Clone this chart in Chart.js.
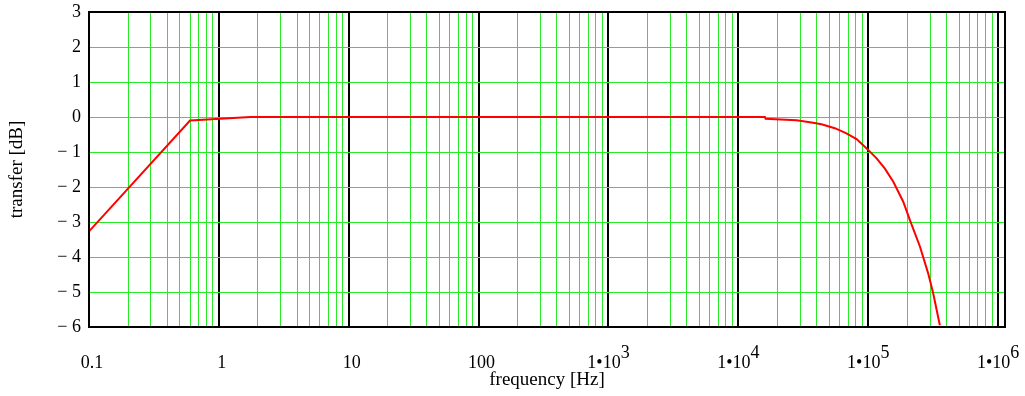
<!DOCTYPE html>
<html lang="en">
<head>
    <meta charset="UTF-8">
    <title>Transfer vs frequency</title>
    <script src="https://cdn.jsdelivr.net/npm/chart.js"></script>
    <style>
        body {
            margin: 0;
            padding: 0;
            background-color: #ffffff;
        }
        canvas {
            display: block;
        }
    </style>
</head>
<body>
    <canvas id="transferChart" width="1025" height="396"></canvas>

    <script>
        // curve: frequency in Hz, transfer in dB
        const frequency = [0.1, 0.6, 1.75, 1.6e4, 1.62e4, 2.8e4, 3.66e4, 4.37e4, 5.53e4, 6.8e4, 8.13e4,
                           1e5, 1.16e5, 1.34e5, 1.56e5, 1.86e5, 2.09e5, 2.5e5, 2.89e5, 3.16e5, 3.56e5];
        const transfer = [-3.27, -0.1, 0, 0, -0.05, -0.09, -0.16, -0.21, -0.32, -0.47, -0.63,
                          -0.94, -1.18, -1.47, -1.85, -2.42, -2.94, -3.7, -4.46, -5.03, -5.95];

        // decade labels on the x axis (base text + exponent)
        const decadeValues = [0.1, 1, 10, 100, 1e3, 1e4, 1e5, 1e6];
        const decadeBase = ['0.1', '1', '10', '100', '1\u202210', '1\u202210', '1\u202210', '1\u202210'];
        const decadeExp = ['', '', '', '', '3', '4', '5', '6'];

        const xMin = 0.1;
        const xMax = 1.13e6;
        const yMin = -6;
        const yMax = 3;

        const GREEN = 'rgb(40, 235, 40)';
        const SERIF = "'Liberation Serif', 'DejaVu Serif', serif";

        // grid positions: 1..9 times each decade
        const gridValues = [];
        for (let e = -1; e <= 6; e++) {
            for (let m = 1; m <= 9; m++) {
                const v = m * Math.pow(10, e);
                if (v <= 1e6) gridValues.push(v);
            }
        }

        function isDecade(v) {
            const l = Math.log10(v);
            return Math.abs(l - Math.round(l)) < 1e-9;
        }

        const framePlugin = {
            id: 'frame',
            afterDraw(chart) {
                const ctx = chart.ctx;
                const area = chart.chartArea;
                const xs = chart.scales.x;
                ctx.save();
                ctx.strokeStyle = '#000';
                ctx.lineWidth = 2;
                ctx.strokeRect(area.left, area.top, area.right - area.left, area.bottom - area.top);

                // decade tick labels with raised exponent
                ctx.fillStyle = '#000';
                ctx.font = '18px ' + SERIF;
                ctx.textBaseline = 'alphabetic';
                ctx.textAlign = 'left';
                const baseY = area.bottom + 41;
                decadeValues.forEach((v, i) => {
                    const px = xs.getPixelForValue(v);
                    const wb = ctx.measureText(decadeBase[i]).width;
                    const we = decadeExp[i] ? ctx.measureText(decadeExp[i]).width : 0;
                    const start = decadeExp[i] ? px - (wb + we) / 2 : px + 3 - wb / 2;
                    ctx.fillText(decadeBase[i], start, baseY);
                    if (decadeExp[i]) ctx.fillText(decadeExp[i], start + wb, baseY - 10);
                });
                ctx.restore();
            }
        };

        const points = frequency.map((f, i) => ({ x: f, y: transfer[i] }));

        new Chart(document.getElementById('transferChart'), {
            type: 'line',
            data: {
                datasets: [{
                    data: points,
                    borderColor: '#ff0000',
                    borderWidth: 2,
                    pointRadius: 0,
                    tension: 0,
                    fill: false
                }]
            },
            options: {
                responsive: false,
                animation: false,
                layout: { padding: { top: 12, right: 20, left: 0, bottom: 0 } },
                plugins: {
                    legend: { display: false },
                    tooltip: { enabled: false }
                },
                scales: {
                    x: {
                        type: 'logarithmic',
                        min: xMin,
                        max: xMax,
                        afterBuildTicks: (scale) => {
                            scale.ticks = gridValues.map(v => ({ value: v }));
                        },
                        afterFit: (scale) => {
                            scale.height = 69;
                            scale.paddingLeft = 0;
                            scale.paddingRight = 0;
                        },
                        ticks: {
                            autoSkip: false,
                            maxRotation: 0,
                            callback: () => ''
                        },
                        grid: {
                            drawTicks: false,
                            color: (c) => (c.tick && isDecade(c.tick.value)) ? '#000' : GREEN,
                            lineWidth: (c) => (c.tick && isDecade(c.tick.value)) ? 2 : 1
                        },
                        border: { display: false },
                        title: {
                            display: true,
                            text: 'frequency [Hz]',
                            color: '#000',
                            font: { family: SERIF, size: 19 },
                            padding: { top: 0, bottom: 5 }
                        }
                    },
                    y: {
                        min: yMin,
                        max: yMax,
                        afterFit: (scale) => {
                            scale.width = 89;
                            scale.paddingTop = 0;
                            scale.paddingBottom = 0;
                        },
                        ticks: {
                            stepSize: 1,
                            padding: 8,
                            color: '#000',
                            font: { family: SERIF, size: 18 },
                            callback: (v) => v < 0 ? '\u2212 ' + Math.abs(v) : String(v)
                        },
                        grid: {
                            drawTicks: false,
                            color: GREEN,
                            lineWidth: 1
                        },
                        border: { display: false },
                        title: {
                            display: true,
                            text: 'transfer [dB]',
                            color: '#000',
                            font: { family: SERIF, size: 19 },
                            padding: { top: 6, bottom: 0 }
                        }
                    }
                }
            },
            plugins: [framePlugin]
        });
    </script>
</body>
</html>
